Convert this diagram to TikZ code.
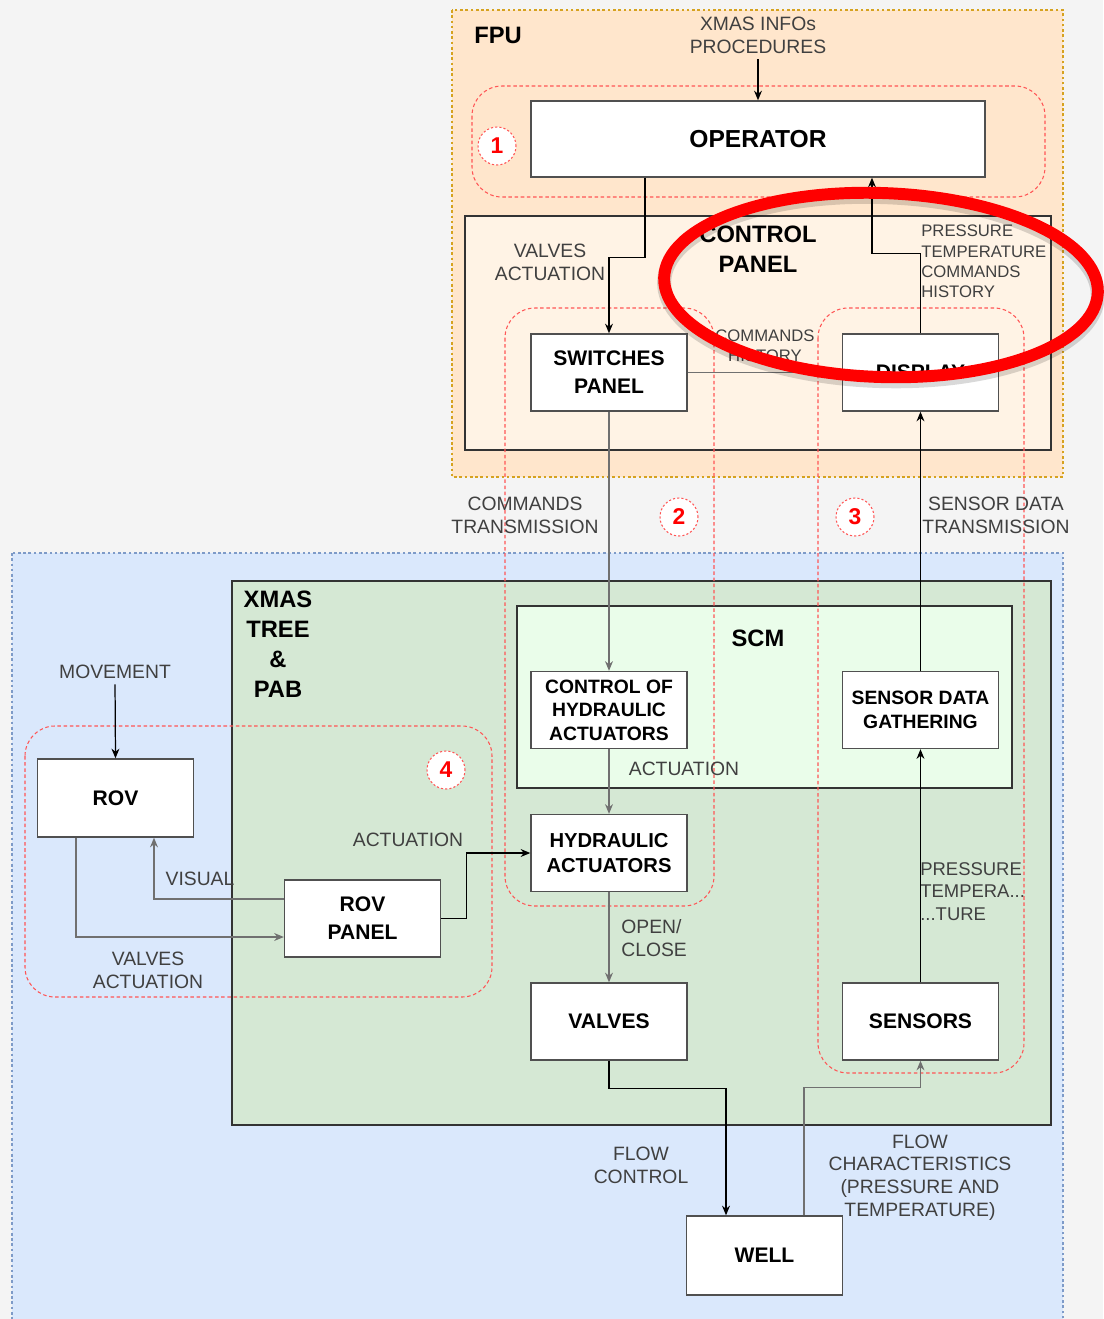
\documentclass[tikz,border=0pt]{standalone}
\usepackage{fontspec}
\setmainfont{Liberation Sans}
\usepackage{tikz}
\usetikzlibrary{arrows.meta,positioning}
\definecolor{bggray}{HTML}{F4F4F4}
\definecolor{fpufill}{HTML}{FFE6CC}
\definecolor{fpuline}{HTML}{D6A21F}
\definecolor{cpfill}{HTML}{FFF3E5}
\definecolor{seafill}{HTML}{DAE8FC}
\definecolor{sealine}{HTML}{7E9BC8}
\definecolor{treefill}{HTML}{D5E8D4}
\definecolor{scmfill}{HTML}{EAFDEA}
\definecolor{zonered}{HTML}{FF5555}
\definecolor{boxline}{HTML}{505050}
\definecolor{linkgray}{HTML}{707070}
\definecolor{notegray}{HTML}{404040}
\tikzset{
    %Define standard arrow tip
    >={Stealth[length=5.5pt,width=4.5pt]},
    %Define style for boxes
    unit/.style={
           rectangle,
           draw=boxline, line width=0.8pt,
           fill=white,
           minimum width=3.12cm,
           minimum height=1.54cm,
           inner sep=1pt,
           align=center,
           font=\bfseries\fontsize{12}{16}\selectfont},
    unitsmall/.style={
           unit,
           font=\bfseries\fontsize{11}{13.4}\selectfont},
    head/.style={
           inner sep=0pt, align=center,
           font=\bfseries\fontsize{13.5}{17}\selectfont},
    note/.style={
           inner sep=0pt, align=center, text=notegray,
           font=\fontsize{11}{13}\selectfont},
    notesmall/.style={
           note,
           font=\fontsize{9.5}{11.5}\selectfont},
    % Define style for the numbered zones
    zone/.style={
           draw=zonered, line width=0.6pt,
           dash pattern=on 2pt off 1.5pt,
           rounded corners=0.6cm},
    tag/.style={
           circle, fill=white,
           draw=zonered, line width=0.6pt,
           dash pattern=on 1.2pt off 1.2pt,
           minimum size=0.76cm, inner sep=0pt,
           text=red,
           font=\bfseries\fontsize{13}{13}\selectfont},
    % Define arrow style
    link/.style={
           ->,
           draw=black,
           line width=0.7pt},
    linkgray/.style={
           link,
           draw=linkgray}
}
\begin{document}
\begin{tikzpicture}[x=0.02cm,y=-0.02cm]
\useasboundingbox (0,0) rectangle (1103,1319);
\fill[bggray] (0,0) rectangle (1103,1319);

 %areas
\begin{scope}
\clip (0,0) rectangle (1103,1319);
\draw[sealine, fill=seafill, line width=0.6pt, dash pattern=on 1.5pt off 1.5pt] (12,553) rectangle (1063,1330);
\end{scope}
\draw[fpuline, fill=fpufill, line width=0.6pt, dash pattern=on 1.5pt off 1.5pt] (452,10) rectangle (1063,477);
\draw[black!80, fill=cpfill, line width=1pt] (465,216) rectangle (1051,450);
\draw[black!80, fill=treefill, line width=1pt] (232,581) rectangle (1051,1125);
\draw[black!80, fill=scmfill, line width=1pt] (517,606) rectangle (1012,788);

\node[head] (fpu) at (498,35) {FPU};
\node[head] (cphead) at (758,249) {CONTROL\\PANEL};
\node[head] (tree) at (278,644.5) {XMAS\\TREE\\\&\\PAB};
\node[head] (scm) at (758,638) {SCM};

 %zones
\draw[zone] (472,86) rectangle (1045,197);
\draw[zone] (505,308) rectangle (714,906);
\draw[zone] (818,308) rectangle (1024,1073);
\draw[zone] (25,726) rectangle (492,997);

 %nodes
\node[unit, minimum width=9.08cm, minimum height=1.52cm, font=\bfseries\fontsize{14}{16}\selectfont] (op) at (758,139) {OPERATOR};
\node[unit] (sw) at (609,372.5) {SWITCHES\\PANEL};
\node[unit] (disp) at (920.5,372.5) {DISPLAY};
\node[unitsmall] (cha) at (609,710) {CONTROL OF\\HYDRAULIC\\ACTUATORS};
\node[unitsmall] (sdg) at (920.5,710) {SENSOR DATA\\GATHERING};
\node[unit, font=\bfseries\fontsize{11.5}{14.6}\selectfont] (ha) at (609,853) {HYDRAULIC\\ACTUATORS};
\node[unit] (vlv) at (609,1021.5) {VALVES};
\node[unit] (sen) at (920.5,1021.5) {SENSORS};
\node[unit, minimum height=1.58cm] (well) at (764.5,1255.5) {WELL};
\node[unit, minimum height=1.56cm] (rov) at (115.5,798) {ROV};
\node[unit] (rp) at (362.5,918.5) {ROV\\PANEL};

 %labels
\node[note] (info) at (758,35.5) {XMAS INFOs\\PROCEDURES};
\node[note] (vact) at (550,262.5) {VALVES\\ACTUATION};
\node[notesmall, align=left, anchor=west] (plist) at (921,261.5) {PRESSURE\\TEMPERATURE\\COMMANDS\\HISTORY};
\node[notesmall] (chist) at (765,346) {COMMANDS\\HISTORY};
\node[note] (ctx) at (525,515.5) {COMMANDS\\TRANSMISSION};
\node[note] (stx) at (996,515.5) {SENSOR DATA\\TRANSMISSION};
\node[note] (mov) at (115,672) {MOVEMENT};
\node[note] (vis) at (200,879) {VISUAL};
\node[note] (ract) at (148,970) {VALVES\\ACTUATION};
\node[note] (pact) at (408,840) {ACTUATION};
\node[note] (sact) at (684,769) {ACTUATION};
\node[note, align=left, anchor=west] (oc) at (621,938) {OPEN/\\CLOSE};
\node[note, align=left, anchor=west, font=\fontsize{10.5}{12.8}\selectfont] (ptemp) at (920,891.5) {PRESSURE\\TEMPERA...\\...TURE};
\node[note] (fctl) at (641,1165) {FLOW\\CONTROL};
\node[note] (fchar) at (920,1177.5) {FLOW\\CHARACTERISTICS\\(PRESSURE AND\\TEMPERATURE)};

 %connectors
\draw[link, shorten <=3pt] (info.south) -- (op.north);
\draw[link] ([xshift=-2.26cm]op.south) -- ++(0,80) -| (sw.north);
\draw[link] (disp.north) -- ++(0,-80) -| ([xshift=2.28cm]op.south);
\draw[linkgray] (sw.east) -- (disp.west);
\draw[linkgray] (sw.south) -- (cha.north);
\draw[linkgray] (cha.south) -- (ha.north);
\draw[linkgray] (ha.south) -- (vlv.north);
\draw[link] (vlv.south) -- ++(0,28) -| ([xshift=-0.77cm]well.north);
\draw[linkgray] ([xshift=0.79cm]well.north) -- ++(0,-128) -| (sen.south);
\draw[link] (sen.north) -- (sdg.south);
\draw[link] (sdg.north) -- (disp.south);
\draw[link, shorten <=3pt] (mov.south) -- (rov.north);
\draw[linkgray] ([yshift=0.39cm]rp.west) -| ([xshift=0.77cm]rov.south);
\draw[linkgray] ([xshift=-0.79cm]rov.south) |- ([yshift=-0.37cm]rp.west);
\draw[link] (rp.east) -- ++(25,0) |- (ha.west);

 %zone numbers
\node[tag] (z1) at (497,146) {1};
\node[tag] (z2) at (679,517) {2};
\node[tag] (z3) at (855,517) {3};
\node[tag] (z4) at (446,770) {4};

 %highlight
\draw[black, opacity=0.15, line width=8pt, rotate around={-2:(881,289)}] (881,289) ellipse [x radius=4.34cm, y radius=1.84cm];
\draw[red, line width=6.8pt, rotate around={-2:(881,285)}] (881,285) ellipse [x radius=4.34cm, y radius=1.84cm];
\end{tikzpicture}
\end{document}
